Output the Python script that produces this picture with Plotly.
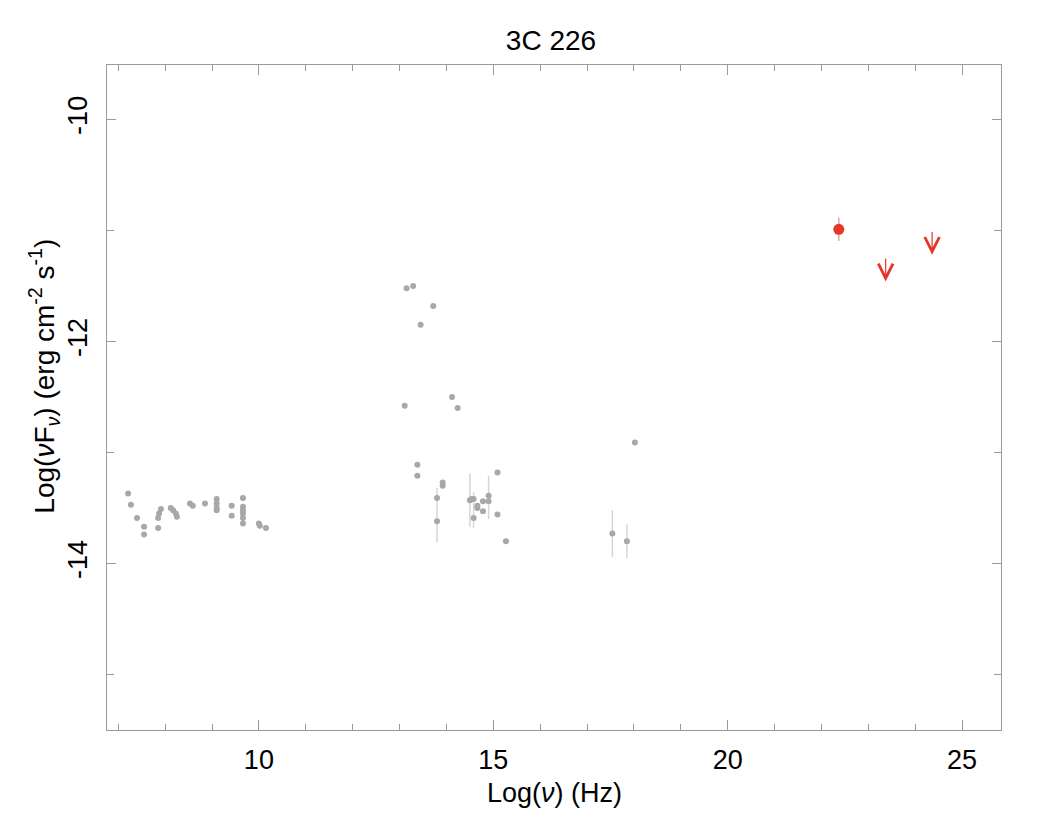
import plotly.graph_objects as go

# Archival SED points (grey)
sed_x = [7.21, 7.27, 7.40, 7.55, 7.55, 7.85, 7.85, 7.87, 7.91, 8.12, 8.17, 8.23, 8.25,
         8.53, 8.59, 8.85, 9.10, 9.10, 9.10, 9.10, 9.42, 9.42, 9.66, 9.66, 9.66, 9.66,
         9.66, 9.66, 10.00, 10.02, 10.15,
         13.15, 13.29, 13.72, 13.45, 13.11, 14.12, 14.24,
         13.38, 13.38, 13.92, 13.92, 13.80, 13.80, 14.50, 14.54, 14.58, 14.58, 14.66,
         14.66, 14.78, 14.78, 14.90, 14.90, 15.09, 15.09, 15.27,
         18.02, 17.54, 17.85]
sed_y = [-13.37, -13.47, -13.59, -13.67, -13.74, -13.68, -13.59, -13.55, -13.51, -13.50,
         -13.52, -13.55, -13.58, -13.46, -13.48, -13.46, -13.42, -13.46, -13.50, -13.52,
         -13.48, -13.57, -13.41, -13.49, -13.52, -13.55, -13.59, -13.64, -13.64, -13.66,
         -13.68,
         -11.52, -11.50, -11.68, -11.85, -12.58, -12.50, -12.60,
         -13.11, -13.21, -13.27, -13.30, -13.41, -13.62, -13.43, -13.42, -13.42, -13.59,
         -13.48, -13.50, -13.44, -13.53, -13.39, -13.44, -13.18, -13.56, -13.80,
         -12.91, -13.73, -13.80]
sed_err_up = [0] * 31 + [0] * 7 + [0, 0, 0, 0, 0, 0.30, 0.24, 0, 0, 0.23, 0, 0, 0, 0, 0,
                                    0.23, 0, 0, 0] + [0, 0.21, 0.15]
sed_err_dn = [0] * 31 + [0] * 7 + [0, 0, 0, 0, 0, 0.19, 0.24, 0, 0, 0.09, 0, 0, 0, 0, 0,
                                    0.16, 0, 0, 0] + [0, 0.21, 0.15]

# Fermi detection (red)
det_x = [22.37]
det_y = [-10.99]
det_err = [0.105]

# Fermi upper limits (red arrows)
ul_x = [23.37, 24.36]
ul_y = [-11.24, -11.00]
ul_len = 0.22

# Tick labels
x_ticks = [10, 15, 20, 25]
x_labels = ["10", "15", "20", "25"]
y_ticks = [-14, -12, -10]
y_labels = ["-14", "-12", "-10"]

RED = "#e8352b"
GREY = "#a8a8a8"
FONT = "Liberation Sans, Arial, Helvetica, sans-serif"
AXC = "#9a9a9a"

fig = go.Figure()
fig.add_trace(go.Scatter(
    x=sed_x, y=sed_y, mode="markers",
    marker=dict(color=GREY, size=6),
    error_y=dict(type="data", symmetric=False, array=sed_err_up, arrayminus=sed_err_dn,
                 color="#d6d6d6", thickness=1.5, width=0),
    showlegend=False, hoverinfo="x+y"))
fig.add_trace(go.Scatter(
    x=det_x, y=det_y, mode="markers",
    marker=dict(color=RED, size=11),
    error_y=dict(type="data", array=det_err, color="#f0a09a", thickness=1.5, width=0),
    showlegend=False))

for ux, uy in zip(ul_x, ul_y):
    fig.add_annotation(x=ux, y=uy - ul_len, ax=ux, ay=uy, xref="x", yref="y",
                       axref="x", ayref="y", showarrow=True, arrowhead=5,
                       arrowsize=2.4, arrowwidth=1.2, arrowcolor=RED, text="")

# axis titles as annotations for precise placement
fig.add_annotation(text="Log(<i>ν</i>) (Hz)", xref="paper", yref="paper",
                   x=0.5, y=-0.0947, xanchor="center", yanchor="middle", showarrow=False,
                   font=dict(size=27, family=FONT, color="black"))
fig.add_annotation(text="Log(<i>ν</i>F<sub><i>ν</i></sub>) (erg cm<sup>-2</sup> s<sup>-1</sup>)",
                   xref="paper", yref="paper", x=-0.07, y=0.532, textangle=-90,
                   xanchor="center", yanchor="middle", showarrow=False,
                   font=dict(size=28, family=FONT, color="black"))

fig.update_xaxes(range=[6.76, 25.83], tickvals=x_ticks, ticktext=x_labels,
                 showline=True, linecolor=AXC, linewidth=1, mirror="ticks",
                 ticks="inside", tickcolor=AXC, ticklen=10, showgrid=False, zeroline=False,
                 ticklabelstandoff=6,
                 tickfont=dict(size=27, color="black", family=FONT),
                 minor=dict(dtick=1, tick0=0, ticks="inside", ticklen=6, tickcolor=AXC))
fig.update_yaxes(range=[-15.5, -9.51], tickvals=y_ticks, ticktext=y_labels, tickangle=-90,
                 showline=True, linecolor=AXC, linewidth=1, mirror="ticks",
                 ticks="inside", tickcolor=AXC, ticklen=9, showgrid=False, zeroline=False,
                 ticklabelstandoff=8,
                 tickfont=dict(size=27, color="black", family=FONT),
                 minor=dict(dtick=1, tick0=0, ticks="inside", ticklen=7, tickcolor=AXC))

fig.update_layout(
    width=1054, height=826,
    margin=dict(l=99, r=61, t=57, b=104),
    paper_bgcolor="white", plot_bgcolor="white",
    font=dict(family=FONT, color="black"),
    title=dict(text="3C 226", x=0.5152, xanchor="center", y=0.9607, yanchor="middle",
               font=dict(size=28, family=FONT, color="black")),
)

fig.write_html("out.html")
